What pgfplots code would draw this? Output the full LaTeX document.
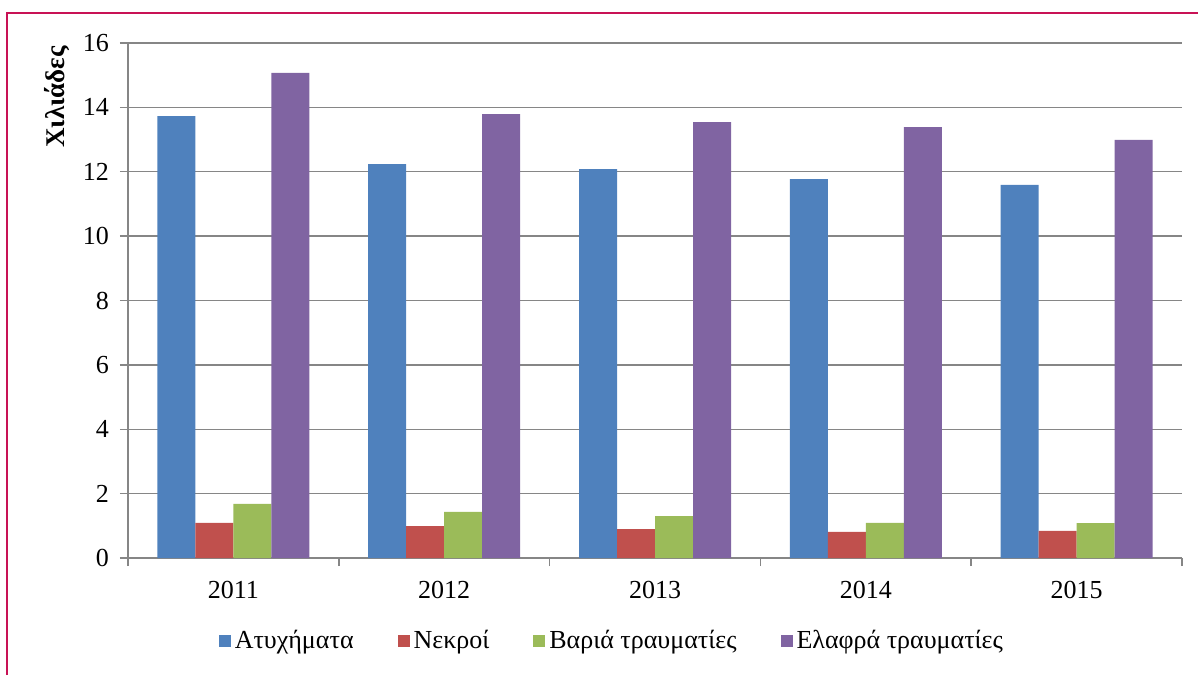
\documentclass[border=0pt]{standalone}
\usepackage{fontspec}
\setmainfont{Liberation Serif}
\usepackage{pgfplots}
\pgfplotsset{compat=1.18}
\definecolor{bordercol}{RGB}{200,18,85}
\definecolor{gridgray}{RGB}{134,134,134}
\definecolor{c1}{RGB}{79,129,189}
\definecolor{c2}{RGB}{192,80,77}
\definecolor{c3}{RGB}{155,187,89}
\definecolor{c4}{RGB}{128,100,162}
\begin{document}
\begin{tikzpicture}[font=\fontsize{12.5}{15}\selectfont]
\useasboundingbox (0,0) rectangle (599pt,337.5pt);
\draw[color=bordercol, line width=1pt] (3.5pt,0pt) -- (3.5pt,330.75pt) -- (599pt,330.75pt);
\node[rotate=90, font=\fontsize{13.5}{16}\selectfont\bfseries] at (28.5pt,289pt) {Χιλιάδες};
\begin{axis}[
  at={(64pt,58.5pt)}, anchor=south west,
  scale only axis, width=527pt, height=257.5pt,
  xmin=-0.5, xmax=4.5, ymin=0, ymax=16,
  ytick={0,2,...,16},
  xtick={-0.5,0.5,...,4.5}, xticklabels={},
  extra x ticks={0,1,2,3,4},
  extra x tick labels={2011,2012,2013,2014,2015},
  extra x tick style={tick style={draw=none}},
  ybar=0pt, bar width=19pt,
  axis x line*=bottom, axis y line*=left,
  ymajorgrids, grid style={color=gridgray, line width=0.75pt},
  axis line style={color=gridgray, line width=0.75pt},
  tick style={color=gridgray, line width=0.75pt},
  tick align=outside, major tick length=4pt,
  /pgf/number format/assume math mode=true,
  tick label style={font=\fontsize{13}{15}\selectfont},
  yticklabel style={xshift=-2pt},
  xticklabel style={yshift=-4pt},
  legend style={at={(0.46,-0.161)}, anchor=center, draw=none, fill=none,
    legend columns=4, font=\fontsize{13}{15}\selectfont,
    /tikz/every even column/.append style={column sep=20pt}},
  legend cell align=left,
  every axis plot/.append style={legend image code/.code={\fill[##1] (0pt,-3pt) rectangle (6pt,3pt);}},
]
\addplot[fill=c1, draw=none] coordinates {(0,13.73) (1,12.24) (2,12.08) (3,11.77) (4,11.59)};
\addplot[fill=c2, draw=none] coordinates {(0,1.09) (1,0.99) (2,0.90) (3,0.81) (4,0.84)};
\addplot[fill=c3, draw=none] coordinates {(0,1.68) (1,1.43) (2,1.30) (3,1.09) (4,1.08)};
\addplot[fill=c4, draw=none] coordinates {(0,15.07) (1,13.79) (2,13.54) (3,13.39) (4,12.99)};
\legend{Ατυχήματα, Νεκροί, Βαριά τραυματίες, Ελαφρά τραυματίες}
\end{axis}
\end{tikzpicture}
\end{document}
